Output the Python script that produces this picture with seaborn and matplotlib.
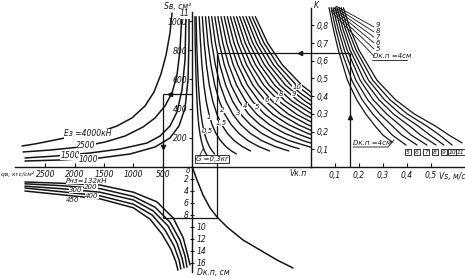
import numpy as np
import pandas as pd
import matplotlib
matplotlib.use("Agg")
import matplotlib.pyplot as plt
import seaborn as sns

# ---------------- data ----------------
# Upper-left quadrant: q_v (kgf/cm2) vs S_v (cm2), curves E_s
E_names = ["4000", "2500", "1500", "1000"]
E4000_q = [2900, 2678, 2166, 1570, 1280, 1024, 802, 648, 529, 443, 375, 341]
E4000_S = [144, 158, 199, 240, 281, 336, 418, 514, 637, 767, 918, 1055]
E2500_q = [2883, 2423, 1911, 1484, 1143, 836, 631, 461, 341, 256, 205, 171]
E2500_S = [103, 116, 137, 171, 212, 274, 336, 418, 507, 630, 801, 1055]
E1500_q = [2849, 2337, 1740, 1228, 768, 546, 375, 256, 171, 119, 102]
E1500_S = [62, 75, 96, 123, 164, 212, 281, 377, 527, 733, 1055]
E1000_q = [2849, 2252, 1570, 1058, 631, 375, 222, 119, 68, 51, 51]
E1000_S = [41, 48, 62, 89, 137, 199, 281, 404, 596, 870, 1055]

# Lower-left quadrant: q_v vs D_k.p (cm), curves P_nz (kN)
P_names = ["132", "200", "300", "400", "450"]
P132_q = [2850, 2250, 1570, 1000, 600, 320, 150, 70, 35]
P132_D = [2.5, 2.7, 3.0, 4.2, 5.8, 8.5, 11.8, 14.8, 16.3]
P200_q = [2850, 2250, 1570, 1000, 630, 375, 205, 120, 85]
P200_D = [2.8, 3.1, 3.6, 4.9, 6.7, 9.2, 12.2, 14.8, 16.7]
P300_q = [2850, 2250, 1570, 1000, 665, 410, 255, 170, 135]
P300_D = [3.2, 3.6, 4.2, 5.5, 7.3, 9.8, 12.7, 15.2, 16.8]
P400_q = [2850, 2250, 1570, 1000, 680, 460, 305, 220, 190]
P400_D = [3.5, 4.1, 4.8, 6.2, 8.0, 10.5, 13.2, 15.5, 17.0]
P450_q = [2850, 2250, 1570, 1000, 715, 510, 360, 275, 240]
P450_D = [4.0, 4.6, 5.3, 6.8, 8.7, 11.2, 13.7, 15.8, 17.2]

# Upper-middle quadrant: V_k.p vs S_v, curves G (kg)
G_values = [0.3, 0.5, 1, 1.5, 2, 2.5, 3, 3.5, 4, 4.5, 5, 5.5, 6, 6.5, 7, 7.5, 8, 8.5, 9, 9.5, 10]
G_V = [
    [0.29, 0.32, 0.37, 0.43, 0.50, 0.58, 0.67, 0.79, 0.93, 1.09, 1.25, 1.40, 1.70],
    [0.41, 0.47, 0.55, 0.64, 0.76, 0.90, 1.06, 1.25, 1.48, 1.74, 2.02, 2.26],
    [0.72, 0.85, 0.99, 1.19, 1.42, 1.70, 2.01, 2.39, 2.86, 3.39, 3.93, 4.43],
    [1.03, 1.22, 1.44, 1.73, 2.08, 2.50, 2.97, 3.54, 4.23, 5.03, 5.85],
    [1.35, 1.59, 1.89, 2.28, 2.74, 3.29, 3.92, 4.69, 5.61, 6.68, 7.76],
    [1.66, 1.97, 2.33, 2.82, 3.40, 4.09, 4.88, 5.84, 6.99, 8.32, 9.68],
    [1.97, 2.34, 2.78, 3.37, 4.06, 4.89, 5.84, 6.98, 8.37, 9.97, 10.72],
    [2.28, 2.71, 3.23, 3.91, 4.72, 5.69, 6.79, 8.13, 9.74, 11.9],
    [2.59, 3.08, 3.67, 4.46, 5.38, 6.49, 7.75, 9.28, 11.12, 11.9],
    [2.90, 3.46, 4.12, 5.00, 6.04, 7.29, 8.70, 10.42, 11.9],
    [3.22, 3.83, 4.57, 5.55, 6.71, 8.09, 9.66, 11.57, 11.9],
    [3.53, 4.20, 5.01, 6.09, 7.37, 8.88, 10.62, 11.9],
    [3.84, 4.58, 5.46, 6.63, 8.03, 9.68, 11.57, 11.9],
    [4.15, 4.95, 5.90, 7.18, 8.69, 10.48, 11.9],
    [4.46, 5.32, 6.35, 7.72, 9.35, 11.28, 11.9],
    [4.77, 5.70, 6.80, 8.27, 10.01, 11.9],
    [5.08, 6.07, 7.24, 8.81, 10.67, 11.9],
    [5.40, 6.44, 7.69, 9.36, 11.33, 11.9],
    [5.71, 6.81, 8.14, 9.90, 10.94, 11.9],
    [6.02, 7.19, 8.58, 10.45, 11.9],
    [6.33, 7.56, 9.03, 10.99, 11.9],
]
G_S = [
    [1030, 850, 700, 560, 450, 360, 290, 230, 180, 140, 110, 90, 60],
    [1030, 850, 700, 560, 450, 360, 290, 230, 180, 140, 110, 90],
    [1030, 850, 700, 560, 450, 360, 290, 230, 180, 140, 110, 90],
    [1030, 850, 700, 560, 450, 360, 290, 230, 180, 140, 110],
    [1030, 850, 700, 560, 450, 360, 290, 230, 180, 140, 110],
    [1030, 850, 700, 560, 450, 360, 290, 230, 180, 140, 110],
    [1030, 850, 700, 560, 450, 360, 290, 230, 180, 140, 125],
    [1030, 850, 700, 560, 450, 360, 290, 230, 180, 135],
    [1030, 850, 700, 560, 450, 360, 290, 230, 180, 164],
    [1030, 850, 700, 560, 450, 360, 290, 230, 193],
    [1030, 850, 700, 560, 450, 360, 290, 230, 222],
    [1030, 850, 700, 560, 450, 360, 290, 251],
    [1030, 850, 700, 560, 450, 360, 290, 280],
    [1030, 850, 700, 560, 450, 360, 309],
    [1030, 850, 700, 560, 450, 360, 338],
    [1030, 850, 700, 560, 450, 367],
    [1030, 850, 700, 560, 450, 396],
    [1030, 850, 700, 560, 450, 425],
    [1030, 850, 700, 560, 500, 454],
    [1030, 850, 700, 560, 483],
    [1030, 850, 700, 560, 512],
]
G_labels = ["0,5", "1", "1,5", "2", "3", "4", "5", "6", "7", "8", "9", "10"]
G_label_px = [(207, 131), (209, 117), (221, 123), (222, 110), (238, 113), (245, 106),
              (257, 107), (267, 100), (277, 100), (281, 94), (294, 94), (297, 87)]

# Lower-right quadrant: V_k.p vs D_k.p
LR_V = [0.1, 0.5, 1.1, 1.8, 2.5, 3.5, 5.1, 6.8, 8.5, 10.1]
LR_D = [0.33, 2.17, 4.67, 6.83, 8.33, 10.0, 12.17, 13.83, 15.5, 16.83]

# Upper-right quadrant: V_s (m/s) vs K, curves D_k.p = 4..11 cm
D_names = ["4", "5", "6", "7", "8", "9", "10", "11"]
D_K = [
    [0.90, 0.78, 0.66, 0.49, 0.38, 0.30, 0.23, 0.18, 0.141],
    [0.90, 0.78, 0.66, 0.49, 0.38, 0.30, 0.23, 0.18, 0.124],
    [0.90, 0.78, 0.66, 0.49, 0.38, 0.30, 0.23, 0.18, 0.124],
    [0.90, 0.78, 0.66, 0.49, 0.38, 0.30, 0.23, 0.18, 0.124],
    [0.90, 0.78, 0.66, 0.49, 0.38, 0.30, 0.23, 0.18, 0.124],
    [0.90, 0.78, 0.66, 0.49, 0.38, 0.30, 0.23, 0.18, 0.124],
    [0.90, 0.78, 0.66, 0.49, 0.38, 0.30, 0.23, 0.18, 0.124],
    [0.90, 0.78, 0.66, 0.49, 0.38, 0.30, 0.23, 0.18, 0.136],
]
D_V = [
    [0.075, 0.093, 0.114, 0.152, 0.190, 0.228, 0.268, 0.300, 0.338],
    [0.084, 0.103, 0.126, 0.170, 0.213, 0.257, 0.304, 0.339, 0.396],
    [0.092, 0.113, 0.139, 0.187, 0.236, 0.286, 0.340, 0.379, 0.442],
    [0.101, 0.123, 0.151, 0.205, 0.259, 0.315, 0.376, 0.418, 0.483],
    [0.109, 0.133, 0.163, 0.222, 0.283, 0.343, 0.412, 0.457, 0.521],
    [0.118, 0.143, 0.175, 0.240, 0.306, 0.372, 0.448, 0.496, 0.554],
    [0.126, 0.153, 0.188, 0.257, 0.329, 0.401, 0.484, 0.536, 0.588],
    [0.135, 0.163, 0.200, 0.275, 0.352, 0.430, 0.520, 0.575, 0.630],
]
# short lines to the upper labels (D = 9, 8, 7, 6, 5, 4)
fan_names = ["9", "8", "7", "6", "5", "Dк.п =4см"]
fan_V0 = [0.104, 0.100, 0.096, 0.092, 0.088, 0.083]
fan_K0 = [0.910, 0.904, 0.898, 0.893, 0.887, 0.881]
fan_V1 = [0.2625, 0.2625, 0.2625, 0.2625, 0.2625, 0.2625]
fan_K1 = [0.791, 0.763, 0.734, 0.701, 0.667, 0.627]

# axis ticks
S_ticks = [200, 400, 600, 800, 1000]
q_ticks = [500, 1000, 1500, 2000, 2500]
K_ticks = [0.1, 0.2, 0.3, 0.4, 0.5, 0.6, 0.7, 0.8]
Vs_ticks = [0.1, 0.2, 0.3, 0.4, 0.5]
D_ticks = [2, 4, 6, 8, 10, 12, 14, 16]

# worked example (key) path
key_Vs, key_K = 0.1625, 0.644
key_Vkn, key_S_top = 2.45, 780
key_D = 8.5
key_q, key_S_left = 495, 500
K_axis_V = 11.9

# ---------------- figure ----------------
sns.set_theme(style="white")
plt.rcParams["font.family"] = ["DejaVu Sans"]
plt.rcParams["font.style"] = "italic"
INK = "#141414"
W, H = 465, 278
fig = plt.figure(figsize=(W / 100, H / 100), dpi=100)
fig.patch.set_facecolor("white")


def add_ax(x0, y0, x1, y1):
    ax = fig.add_axes([x0 / W, 1 - y1 / H, (x1 - x0) / W, (y1 - y0) / H])
    ax.set_facecolor("none")
    for s in ax.spines.values():
        s.set_visible(False)
        s.set_color(INK)
        s.set_linewidth(1.0)
    return ax


ax_ul = add_ax(15, 0, 192, 167)
ax_um = add_ax(192, 0, 311, 167)
ax_ur = add_ax(311, 0, 465, 167)
ax_ll = add_ax(15, 167, 192, 278)
ax_lr = add_ax(192, 167, 311, 278)


def family(ax, xs, ys, lw=1.0, color=INK):
    for xx, yy in zip(xs, ys):
        df = pd.DataFrame({"x": list(xx), "y": list(yy)})
        sns.lineplot(data=df, x="x", y="y", estimator=None, sort=False,
                     color=color, linewidth=lw, ax=ax, legend=False)
    ax.set_xlabel("")
    ax.set_ylabel("")


family(ax_ul, [E4000_q, E2500_q, E1500_q, E1000_q], [E4000_S, E2500_S, E1500_S, E1000_S], 1.1)
family(ax_ll, [P132_q, P200_q, P300_q, P400_q, P450_q], [P132_D, P200_D, P300_D, P400_D, P450_D], 1.1)
family(ax_um, G_V, G_S, 1.0)
family(ax_lr, [LR_V], [LR_D], 1.1)
family(ax_ur, D_V, D_K, 0.9)
family(ax_ur, [[a, b] for a, b in zip(fan_V0, fan_V1)], [[a, b] for a, b in zip(fan_K0, fan_K1)], 0.6)

# key path
kw = dict(color=INK, lw=0.9, solid_capstyle="butt")
ax_ur.plot([key_Vs, key_Vs], [0, key_K], **kw)
ax_ur.plot([0, key_Vs], [key_K, key_K], **kw)
ax_um.plot([key_Vkn, K_axis_V], [key_S_top, key_S_top], **kw)
ax_um.plot([key_Vkn, key_Vkn], [0, key_S_top], **kw)
ax_lr.plot([key_Vkn, key_Vkn], [0, key_D], **kw)
ax_lr.plot([0, key_Vkn], [key_D, key_D], **kw)
ax_ll.plot([key_q, 0], [key_D, key_D], **kw)
ax_ll.plot([key_q, key_q], [0, key_D], **kw)
ax_ul.plot([key_q, key_q], [0, key_S_left], **kw)
ax_ul.plot([key_q, 0], [key_S_left, key_S_left], **kw)
ax_ur.plot([key_Vs], [0.28], marker="^", ms=3, color=INK)
ax_um.plot([10.8], [key_S_top], marker="<", ms=3, color=INK)
ax_ul.plot([375], [key_S_left], marker="<", ms=3, color=INK)
ax_ul.plot([key_q], [137], marker="v", ms=3, color=INK)

# leaders
ax_ur.plot([0.254, 0.40], [0.605, 0.605], color=INK, lw=0.6)
ax_ur.plot([0.175, 0.321, 0.346], [0.113, 0.113, 0.153], color=INK, lw=0.6)
ax_um.plot([0.8, 1.15], [82, 130], color=INK, lw=0.6)

# limits
ax_ul.set_xlim(3020, 0); ax_ul.set_ylim(0, 1144)
ax_um.set_xlim(0, 11.9); ax_um.set_ylim(0, 1144)
ax_ur.set_xlim(0, 0.6417); ax_ur.set_ylim(0, 0.9435)
ax_ll.set_xlim(3020, 0); ax_ll.set_ylim(18.5, 0)
ax_lr.set_xlim(0, 11.9); ax_lr.set_ylim(18.5, 0)
for ax in (ax_ul, ax_um, ax_ur, ax_ll, ax_lr):
    for ln in ax.lines:
        ln.set_clip_on(False)
    ax.set_xticks([]); ax.set_yticks([])

FS = 5.5
# spines and ticks
ax_ul.spines["bottom"].set_visible(True)
ax_ul.set_xticks(q_ticks, labels=[str(v) for v in q_ticks])
ax_ul.tick_params(axis="x", bottom=True, direction="in", length=3, width=0.8,
                  color=INK, labelsize=FS, pad=2, labelcolor=INK)

ax_um.spines["bottom"].set_visible(True)
ax_um.spines["left"].set_visible(True)
ax_um.spines["left"].set_bounds(0, 1062)
ax_um.set_yticks(S_ticks, labels=[str(v) for v in S_ticks])
ax_um.tick_params(axis="y", left=True, direction="out", length=2.5, width=0.8,
                  color=INK, labelsize=FS, pad=1, labelcolor=INK)

ax_ur.spines["bottom"].set_visible(True)
ax_ur.spines["left"].set_visible(True)
ax_ur.spines["left"].set_bounds(0, 0.9)
ax_ur.set_xticks(Vs_ticks, labels=[f"{v:.1f}".replace(".", ",") for v in Vs_ticks])
ax_ur.tick_params(axis="x", bottom=True, direction="in", length=3, width=0.8,
                  color=INK, labelsize=FS, pad=3, labelcolor=INK)
ax_ur.set_yticks(K_ticks, labels=[f"{v:.1f}".replace(".", ",") for v in K_ticks])
ax_ur.tick_params(axis="y", left=True, direction="in", length=2.5, width=0.8,
                  color=INK, labelsize=FS, pad=-4, labelcolor=INK)
for lab in ax_ur.get_yticklabels():
    lab.set_horizontalalignment("left")

ax_lr.spines["left"].set_visible(True)
ax_lr.spines["left"].set_bounds(0, 17.5)
ax_lr.set_yticks(D_ticks, labels=[""] * len(D_ticks))
ax_lr.tick_params(axis="y", left=True, direction="inout", length=3.5, width=0.8, color=INK)
btr = ax_lr.get_yaxis_transform()
for d in D_ticks:
    if d <= 8:
        ax_lr.text(-0.03, d, str(d), transform=btr, ha="right", va="center", fontsize=FS, color=INK)
    else:
        ax_lr.text(0.035, d, str(d), transform=btr, ha="left", va="center", fontsize=FS, color=INK)


def ftext(s, px, py, ha="center", va="center", box=False, frame=False, size=FS):
    bbox = None
    if box:
        bbox = dict(boxstyle="square,pad=0.05", fc="white", ec="none")
    if frame:
        bbox = dict(boxstyle="square,pad=0.12", fc="white", ec=INK, lw=0.6)
    fig.text(px / W, 1 - py / H, s, ha=ha, va=va, fontsize=size, color=INK,
             style="italic", bbox=bbox, zorder=5)


ftext("Sв, см²", 178, 6)
ftext("11", 185, 14, box=True)
ftext("K", 314, 5, ha="left")
ftext("Eз =4000кН", 88, 134, box=True)
ftext("2500", 86, 145, box=True)
ftext("1500", 70, 155, box=True)
ftext("1000", 88, 159, box=True)
ftext("qв, кгс/см²", 1, 174, ha="left", size=4.3)
ftext("0", 188, 171, size=5)
for lab, (px, py) in zip(G_labels, G_label_px):
    ftext(lab, px, py, box=True, size=5)
ftext("G =0,3кг", 212, 159, frame=True, size=5)
ftext("Vк.п", 298, 173)
ftext("Dк.п, см", 197, 272, ha="left")
ftext("Pнз=132кН", 87, 181, box=True, size=5)
ftext("200", 91, 187, box=True, size=5)
ftext("300", 76, 190, box=True, size=5)
ftext("400", 92, 196, box=True, size=5)
ftext("450", 73, 200, box=True, size=5)
for lab, py in zip(fan_names[:-1], [25, 31, 37, 43, 49]):
    ftext(lab, 378, py, size=5)
ftext(fan_names[-1], 373, 56, ha="left", size=5)
ftext("Dк.п =4см", 353, 143, ha="left", size=5)
for lab, px in zip(D_names[1:], [408, 417, 426, 435, 444, 452.5, 460.5]):
    ftext(lab, px, 152, frame=True, size=4.3)
ftext("Vs, м/с", 452, 176)

fig.savefig("out.png", dpi=100, facecolor="white")
